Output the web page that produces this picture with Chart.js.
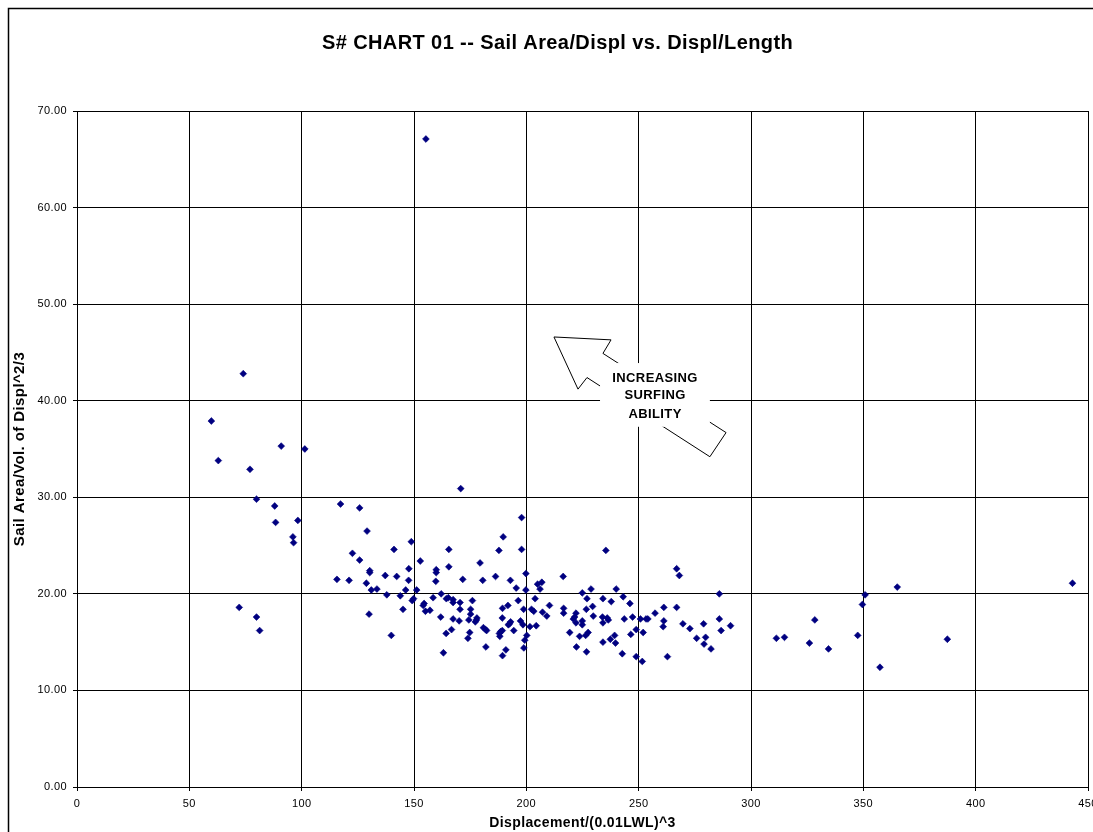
<!DOCTYPE html>
<html>
<head>
<meta charset="utf-8">
<script src="https://cdn.jsdelivr.net/npm/chart.js@4/dist/chart.umd.min.js"></script>
<style>
html,body{margin:0;padding:0;background:#fff;overflow:hidden}
#wrap{width:1093px;height:832px;position:relative}
</style>
</head>
<body>
<div id="wrap"><canvas id="c" width="1093" height="832"></canvas></div>
<script>
// ---- text ----
const chartTitle = "S# CHART 01 -- Sail Area/Displ vs. Displ/Length";
const xAxisTitle = "Displacement/(0.01LWL)^3";
const yAxisTitle = "Sail Area/Vol. of Displ^2/3";
const noteLines = ["INCREASING", "SURFING", "ABILITY"];

// ---- axes ----
const xTickValues = [0, 50, 100, 150, 200, 250, 300, 350, 400, 450];
const yTickValues = [0, 10, 20, 30, 40, 50, 60, 70];

// ---- data: Displacement/Length ratio (x) and Sail Area/Displacement ratio (y) ----
const displLength = [
  74.0, 59.8, 90.9, 101.4, 62.9, 77.0, 79.9, 88.0, 88.4, 98.3, 96.1, 96.4, 117.3, 125.8, 129.1,
  122.6, 125.8, 130.3, 130.3, 115.7, 121.1, 128.8, 131.0, 133.5, 72.2, 79.9, 81.3, 130.0, 155.3,
  170.8, 197.9, 189.7, 187.8, 197.9, 148.8, 141.1, 165.5, 152.8, 179.4, 165.5, 159.9, 159.9, 147.7,
  137.2, 142.3, 147.6, 159.7, 171.7, 180.6, 186.3, 192.9, 199.8, 216.4, 205.0, 206.9, 195.5, 199.8,
  206.1, 146.3, 151.2, 137.9, 143.9, 149.8, 149.2, 158.5, 162.1, 164.4, 165.3, 167.4, 167.4, 170.5,
  176.0, 196.4, 203.9, 145.1, 154.5, 154.1, 155.1, 157.1, 170.5, 175.2, 175.2, 189.4, 191.8, 198.8,
  202.3, 203.3, 207.2, 209.1, 210.3, 216.6, 216.6, 161.9, 167.4, 170.1, 174.4, 178.0, 177.8, 177.3,
  180.9, 181.9, 182.3, 189.3, 193.0, 192.5, 192.0, 197.4, 198.5, 201.6, 204.4, 219.3, 166.7, 164.3,
  174.8, 174.0, 189.3, 188.6, 188.0, 188.2, 194.4, 200.2, 199.3, 198.9, 139.9, 163.1, 182.0, 190.9,
  189.4,
  235.4, 266.9, 268.1, 224.9, 228.8, 240.0, 243.1, 285.9, 227.0, 234.1, 237.8, 246.1, 261.2, 266.9,
  226.7, 229.5, 222.1, 221.5, 220.9, 222.1, 224.9, 224.9, 229.8, 233.9, 236.0, 236.5, 234.1, 243.6,
  247.3, 250.8, 253.3, 254.1, 257.3, 261.2, 260.9, 269.7, 272.8, 278.9, 285.9, 290.9, 286.7, 248.9,
  252.0, 246.5, 223.7, 226.4, 227.5, 239.3, 237.4, 234.1, 239.7, 275.8, 279.8, 279.1, 282.2, 222.3,
  226.8, 242.7, 248.9, 251.6, 262.8,
  443.1, 365.1, 350.8, 349.6, 328.4, 311.3, 314.9, 326.0, 334.5, 347.5, 387.4, 357.4
];
const sailAreaDispl = [
  42.8, 37.9, 35.3, 35.0, 33.8, 32.9, 29.8, 29.1, 27.4, 27.6, 25.9, 25.3, 29.3, 28.9, 26.5,
  24.2, 23.5, 22.4, 22.2, 21.5, 21.4, 21.1, 20.4, 20.5, 18.6, 17.6, 16.2, 17.9, 67.1,
  30.9, 27.9, 25.9, 24.5, 24.6, 25.4, 24.6, 24.6, 23.4, 23.2, 22.8, 22.5, 22.2, 22.6,
  21.9, 21.8, 21.4, 21.3, 21.5, 21.4, 21.8, 21.4, 22.1, 21.8, 21.0, 21.2, 20.6, 20.4,
  20.5, 20.4, 20.4, 19.9, 19.8, 19.5, 19.3, 19.6, 20.0, 19.5, 19.6, 19.4, 19.1, 19.1,
  19.3, 19.3, 19.5, 18.4, 19.0, 18.8, 18.2, 18.3, 18.4, 18.4, 17.9, 18.5, 18.8, 18.4,
  18.4, 18.2, 18.1, 17.7, 18.8, 18.5, 18.0, 17.6, 17.4, 17.2, 17.3, 17.5, 17.3, 17.1,
  16.5, 16.3, 16.2, 17.5, 17.1, 16.9, 16.8, 17.2, 16.8, 16.6, 16.7, 16.0, 16.3, 15.9,
  16.0, 15.4, 16.2, 16.1, 15.9, 15.6, 16.2, 15.7, 15.2, 14.4, 15.7, 13.9, 14.5, 14.2,
  13.6,
  24.5, 22.6, 21.9, 20.1, 20.5, 20.5, 19.7, 20.0, 19.5, 19.5, 19.2, 19.0, 18.6, 18.6,
  18.4, 18.7, 18.0, 17.6, 17.4, 17.0, 17.2, 16.8, 17.7, 17.6, 17.5, 17.3, 17.0, 17.4,
  17.6, 17.4, 17.4, 17.4, 18.0, 17.2, 16.6, 16.9, 16.4, 16.9, 17.4, 16.7, 16.2, 16.3,
  16.0, 15.8, 15.6, 15.7, 16.0, 15.7, 15.3, 15.0, 14.9, 15.4, 15.5, 14.8, 14.3, 14.5,
  14.0, 13.8, 13.5, 13.0, 13.5,
  21.1, 20.7, 19.9, 18.9, 17.3, 15.4, 15.5, 14.9, 14.3, 15.7, 15.3, 12.4
];

// ---- annotation arrow outline (data units) ----
const arrowX = [212.3, 237.7, 234.1, 288.9, 281.7, 227.0, 223.0];
const arrowY = [46.6, 46.3, 44.9, 36.7, 34.2, 42.4, 41.2];
const noteBoxX = [232.8, 281.7];
const noteBoxY = [37.3, 43.9];
const noteCenterX = 257.3;
const noteLineY = [42.35, 40.5, 38.6];

const points = displLength.map((x, i) => ({ x: x, y: sailAreaDispl[i] }));

const FONT = "'Liberation Sans', Arial, sans-serif";
const SPACING = '0.4px';

const framePlugin = {
  id: 'frame',
  beforeUpdate(chart) { chart.ctx.letterSpacing = SPACING; },
  beforeDraw(chart) {
    const ctx = chart.ctx;
    ctx.letterSpacing = SPACING;
    ctx.save();
    ctx.fillStyle = '#fff';
    ctx.fillRect(0, 0, chart.width, chart.height);
    ctx.restore();
  },
  afterDraw(chart) {
    const ctx = chart.ctx;
    const xs = chart.scales.x, ys = chart.scales.y;
    ctx.save();
    // outer frame
    ctx.strokeStyle = '#000';
    ctx.lineWidth = 1.5;
    ctx.strokeRect(8.5, 8.5, 1300, 1300);
    // arrow
    ctx.beginPath();
    arrowX.forEach((v, i) => {
      const px = xs.getPixelForValue(v), py = ys.getPixelForValue(arrowY[i]);
      if (i === 0) ctx.moveTo(px, py); else ctx.lineTo(px, py);
    });
    ctx.closePath();
    ctx.fillStyle = '#fff';
    ctx.fill();
    ctx.lineWidth = 1;
    ctx.strokeStyle = '#000';
    ctx.stroke();
    // note box
    const bx0 = xs.getPixelForValue(noteBoxX[0]), bx1 = xs.getPixelForValue(noteBoxX[1]);
    const by0 = ys.getPixelForValue(noteBoxY[1]), by1 = ys.getPixelForValue(noteBoxY[0]);
    ctx.fillStyle = '#fff';
    ctx.fillRect(bx0, by0, bx1 - bx0, by1 - by0);
    ctx.fillStyle = '#000';
    ctx.font = 'bold 13px ' + FONT;
    ctx.letterSpacing = SPACING;
    ctx.textAlign = 'center';
    ctx.textBaseline = 'middle';
    noteLines.forEach((t, i) => {
      ctx.fillText(t, xs.getPixelForValue(noteCenterX), ys.getPixelForValue(noteLineY[i]));
    });
    ctx.restore();
  }
};

new Chart(document.getElementById('c'), {
  type: 'scatter',
  data: {
    datasets: [{
      label: 'Boats',
      data: points,
      pointStyle: 'rectRot',
      pointRadius: 3.4,
      pointHoverRadius: 3.4,
      backgroundColor: '#000080',
      borderColor: '#000080',
      borderWidth: 0.6
    }]
  },
  options: {
    responsive: false,
    animation: false,
    devicePixelRatio: 1,
    layout: { padding: { left: 27, right: 5, top: 0, bottom: 0 } },
    plugins: {
      legend: { display: false },
      tooltip: { enabled: false },
      title: {
        display: true,
        text: chartTitle,
        color: '#000',
        font: { family: FONT, size: 20, weight: 'bold' },
        padding: { top: 31.8, bottom: 55.2 }
      }
    },
    scales: {
      x: {
        type: 'linear',
        min: 0, max: 450,
        afterBuildTicks(scale) { scale.ticks = xTickValues.map(v => ({ value: v })); },
        afterFit(scale) { scale.height = 45; scale.paddingLeft = 0; scale.paddingRight = 0; },
        ticks: {
          color: '#000',
          font: { family: FONT, size: 11 },
          padding: 6,
          maxRotation: 0,
          autoSkip: false,
          callback: v => String(v)
        },
        grid: { color: '#000', lineWidth: 1, tickLength: 4, drawTicks: true, tickColor: '#000' },
        border: { color: '#000', width: 1 },
        title: {
          display: true,
          text: xAxisTitle,
          color: '#000',
          font: { family: FONT, size: 14, weight: 'bold' },
          padding: { top: 0, bottom: 0.6 }
        }
      },
      y: {
        type: 'linear',
        min: 0, max: 70,
        afterBuildTicks(scale) { scale.ticks = yTickValues.map(v => ({ value: v })); },
        afterFit(scale) { scale.width = 50; scale.paddingTop = 0; scale.paddingBottom = 0; },
        ticks: {
          color: '#000',
          font: { family: FONT, size: 11 },
          padding: 6,
          autoSkip: false,
          callback: v => Number(v).toFixed(2)
        },
        grid: { color: '#000', lineWidth: 1, tickLength: 4, drawTicks: true, tickColor: '#000' },
        border: { color: '#000', width: 1 },
        title: {
          display: true,
          text: yAxisTitle,
          color: '#000',
          font: { family: FONT, size: 15, weight: 'bold' },
          padding: { top: -16, bottom: 0 }
        }
      }
    }
  },
  plugins: [framePlugin]
});
</script>
</body>
</html>
